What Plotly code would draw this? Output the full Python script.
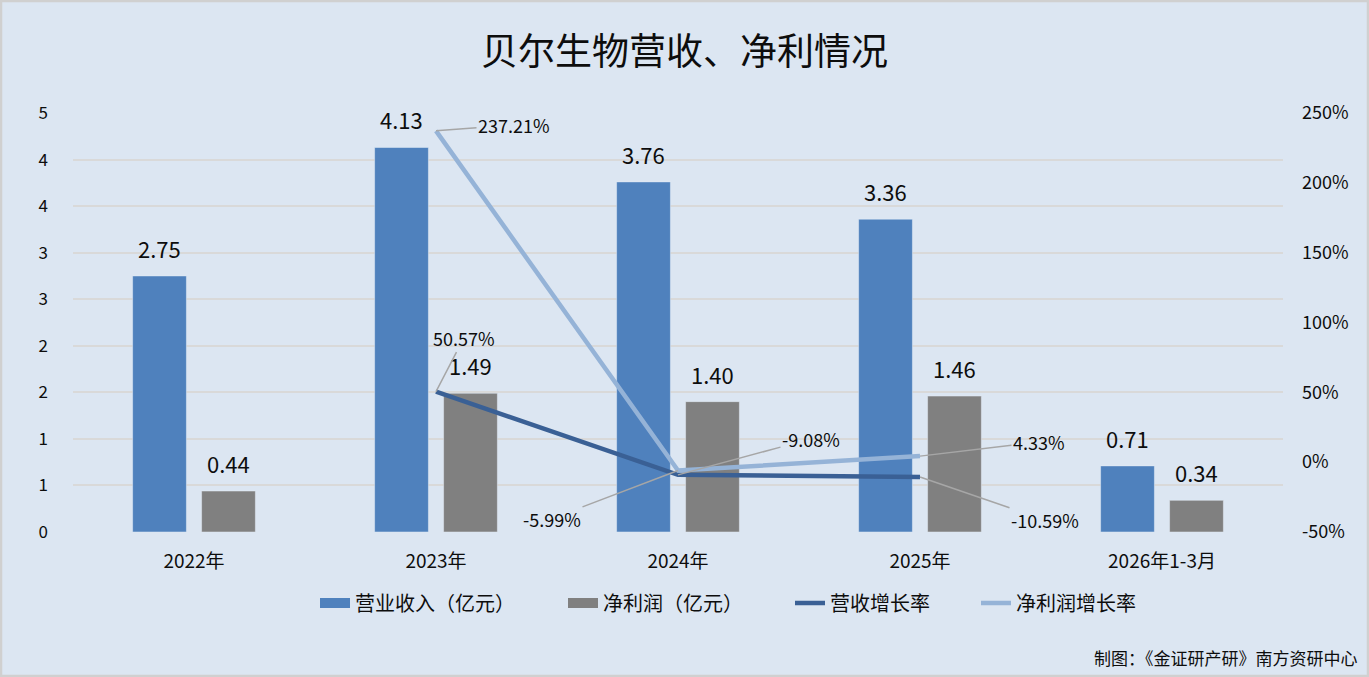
import plotly.graph_objects as go

# ---------------- data ----------------
categories = ["2022年", "2023年", "2024年", "2025年", "2026年1-3月"]
revenue = [2.75, 4.13, 3.76, 3.36, 0.71]          # 营业收入（亿元）
net_profit = [0.44, 1.49, 1.40, 1.46, 0.34]       # 净利润（亿元）
growth_categories = ["2023年", "2024年", "2025年"]
revenue_growth = [50.57, -9.08, -10.59]           # 营收增长率 (%)
profit_growth = [237.21, -5.99, 4.33]             # 净利润增长率 (%)

left_tickvals = [0, 0.5, 1, 1.5, 2, 2.5, 3, 3.5, 4, 4.5]
left_ticktext = ["0", "1", "1", "2", "2", "3", "3", "4", "4", "5"]
right_tickvals = [-50, 0, 50, 100, 150, 200, 250]
right_ticktext = ["-50%", "0%", "50%", "100%", "150%", "200%", "250%"]

series_names = ["营业收入（亿元）", "净利润（亿元）", "营收增长率", "净利润增长率"]
title_text = "贝尔生物营收、净利情况"
source_text = "制图：《金证研产研》南方资研中心"

# ---------------- style ----------------
W, H = 1369, 677
ML, MR, MT, MB = 73, 86, 113, 145
PW, PH = W - ML - MR, H - MT - MB
BG = "#DCE6F2"
C_REV = "#4F81BD"
C_NP = "#808080"
C_RG = "#3A6095"
C_PG = "#95B3D7"
C_LEAD = "#A6A6A6"
GRID = "#D9D9D9"
FONT = "Noto Sans CJK SC"
TXT = "#0D0D0D"
BARGAP = 0.43
BARGROUPGAP = 0.22

# pixel offsets (label centre relative to data point) for line labels
rg_label_offsets = [(28, -54), (133, -36), (125, 43)]
pg_label_offsets = [(78, -6), (-126, 48), (119, -14)]
# legend text start (px) for each legend entry, and legend centre row
legend_text_px = [355, 603, 830, 1016]
legend_row_px = 603


def px_x(p):
    return (p - ML) / PW


def px_y(p):
    return (H - MB - p) / PH


fig = go.Figure()

fig.add_trace(go.Bar(x=categories, y=revenue, name=series_names[0], marker_color=C_REV,
                     showlegend=False, yaxis="y"))
fig.add_trace(go.Bar(x=categories, y=net_profit, name=series_names[1], marker_color=C_NP,
                     showlegend=False, yaxis="y"))

# legend proxies for bars (wide rectangles)
fig.add_trace(go.Scatter(x=[None], y=[None], mode="lines", name=series_names[0],
                         line=dict(color=C_REV, width=12), legend="legend"))
fig.add_trace(go.Scatter(x=[None], y=[None], mode="lines", name=series_names[1],
                         line=dict(color=C_NP, width=12), legend="legend2"))

fig.add_trace(go.Scatter(x=growth_categories, y=revenue_growth, name=series_names[2],
                         mode="lines", line=dict(color=C_RG, width=4.5), yaxis="y2",
                         legend="legend3"))
fig.add_trace(go.Scatter(x=growth_categories, y=profit_growth, name=series_names[3],
                         mode="lines", line=dict(color=C_PG, width=4.5), yaxis="y2",
                         legend="legend4"))

annotations = []
cat_w = PW / len(categories)
off = cat_w * (1 - BARGAP) / 4

for cat, v in zip(categories, revenue):
    annotations.append(dict(x=cat, y=v, xref="x", yref="y", text=f"{v:.2f}", showarrow=False,
                            xshift=-off, yshift=28, yanchor="middle",
                            font=dict(family=FONT, size=22, color=TXT)))
for cat, v in zip(categories, net_profit):
    annotations.append(dict(x=cat, y=v, xref="x", yref="y", text=f"{v:.2f}", showarrow=False,
                            xshift=off, yshift=28, yanchor="middle",
                            font=dict(family=FONT, size=22, color=TXT)))

for vals, offs in ((revenue_growth, rg_label_offsets), (profit_growth, pg_label_offsets)):
    for cat, v, (dx, dy) in zip(growth_categories, vals, offs):
        annotations.append(dict(x=cat, y=v, xref="x", yref="y2", text=f"{v:.2f}%",
                                showarrow=True, arrowhead=0, arrowwidth=1.5,
                                arrowcolor=C_LEAD, ax=dx, ay=dy, standoff=0,
                                font=dict(family=FONT, size=18, color=TXT)))

annotations.append(dict(text=source_text, xref="paper", yref="paper",
                        x=px_x(W - 9), y=px_y(657),
                        xanchor="right", yanchor="middle", showarrow=False,
                        font=dict(family=FONT, size=17, color=TXT)))

legend_common = dict(orientation="h", xanchor="left", yanchor="middle", y=px_y(legend_row_px),
                     font=dict(family=FONT, size=20, color=TXT), bgcolor="rgba(0,0,0,0)",
                     borderwidth=0, itemwidth=30)
legends = {}
for i, tp in enumerate(legend_text_px):
    key = "legend" if i == 0 else f"legend{i + 1}"
    legends[key] = dict(legend_common, x=px_x(tp - 40))

fig.update_layout(
    width=W, height=H,
    margin=dict(l=ML, r=MR, t=MT, b=MB),
    paper_bgcolor=BG, plot_bgcolor=BG,
    font=dict(family=FONT, color=TXT),
    barmode="group", bargap=BARGAP, bargroupgap=BARGROUPGAP,
    title=dict(text=title_text, x=0.5, xanchor="center", xref="container",
               y=1 - 52 / H, yanchor="middle", yref="container",
               font=dict(family=FONT, size=37, color=TXT)),
    xaxis=dict(type="category", categoryorder="array", categoryarray=categories,
               showgrid=False, showline=False, zeroline=False,
               tickfont=dict(family=FONT, size=19, color=TXT), ticklabelstandoff=16),
    yaxis=dict(range=[0, 4.5], tickvals=left_tickvals, ticktext=left_ticktext,
               showgrid=True, gridcolor=GRID, gridwidth=2, zeroline=False, showline=False,
               tickfont=dict(family=FONT, size=17, color=TXT), ticklabelstandoff=24),
    yaxis2=dict(range=[-50, 250], tickvals=right_tickvals, ticktext=right_ticktext,
                overlaying="y", side="right", showgrid=False, zeroline=False, showline=False,
                tickfont=dict(family=FONT, size=18, color=TXT), ticklabelstandoff=18),
    annotations=annotations,
    shapes=[dict(type="rect", xref="paper", yref="paper",
                 x0=px_x(1), x1=px_x(W - 1), y0=px_y(H - 1), y1=px_y(1),
                 line=dict(color="#D0D0D0", width=2.5), fillcolor="rgba(0,0,0,0)",
                 layer="above")],
    **legends,
)

fig.write_html("out.html", config={"displayModeBar": False},
               post_script="document.body.style.margin='0';document.body.style.padding='0';")
